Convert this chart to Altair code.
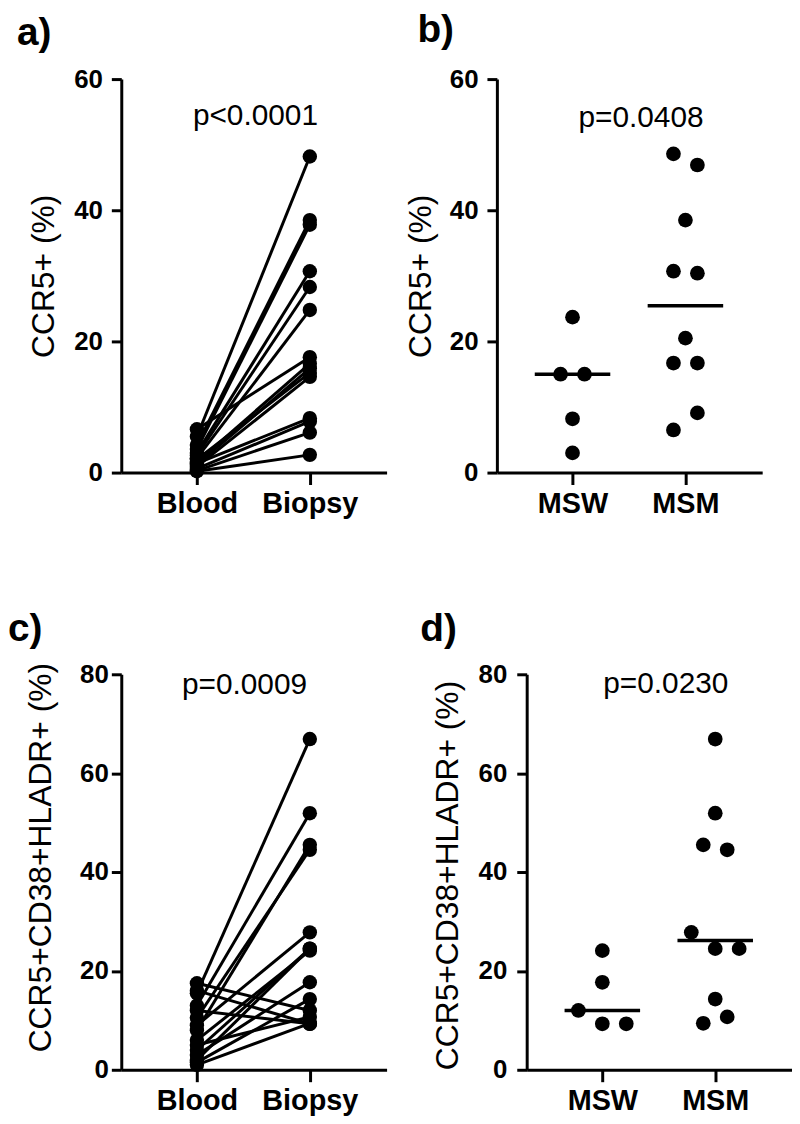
import altair as alt
import pandas as pd

FONT = "Liberation Sans"

# ---------------- data ----------------
# panel a: paired CCR5+ (%) blood vs biopsy
a_blood = [5.5, 4.2, 3.6, 3.0, 2.6, 2.2, 6.6, 1.6, 1.2, 2.0, 0.9, 1.4, 0.6, 0.3, 0.2]
a_biopsy = [48.2, 38.5, 37.8, 30.7, 28.3, 24.8, 17.6, 16.6, 15.9, 15.2, 14.6, 8.3, 7.8, 6.1, 2.7]

# panel b: CCR5+ (%) MSW vs MSM
b_msw = [23.7, 15.0, 15.0, 8.2, 3.0]
b_msw_slot = [0, -1, 1, 0, 0]
b_msm = [48.6, 46.9, 38.5, 30.7, 30.4, 20.5, 16.7, 16.7, 9.1, 6.5]
b_msm_slot = [-1, 1, 0, -1, 1, 0, -1, 1, 1, -1]

# panel c: paired CCR5+CD38+HLADR+ (%) blood vs biopsy
c_blood = [15.5, 13.0, 8.0, 10.5, 9.0, 4.0, 2.0, 6.0, 3.0, 1.5, 17.5, 5.0, 1.0, 16.0, 12.0]
c_biopsy = [66.9, 51.9, 45.5, 44.5, 27.8, 24.5, 24.5, 24.1, 17.7, 14.3, 12.0, 10.7, 9.4, 9.3, 9.3]

# panel d: CCR5+CD38+HLADR+ (%) MSW vs MSM
d_msw = [24.1, 17.7, 12.0, 9.3, 9.3]
d_msw_slot = [0, 0, -2, 0, 2]
d_msm = [66.9, 51.9, 45.5, 44.5, 27.8, 24.5, 24.5, 14.3, 10.7, 9.4]
d_msm_slot = [0, 0, -1, 1, -2, 0, 2, 0, 1, -1]

paired_labels = ["Blood", "Biopsy"]
group_labels = ["MSW", "MSM"]
panel_labels = ["a)", "b)", "c)", "d)"]
pvals = ["p<0.0001", "p=0.0408", "p=0.0009", "p=0.0230"]
title_ccr5 = "CCR5+ (%)"
title_triple = "CCR5+CD38+HLADR+ (%)"
ticks_60 = [0, 20, 40, 60]
ticks_80 = [0, 20, 40, 60, 80]

# ---------------- helpers ----------------
W = 267
XDOM = [-0.67, 1.68]
SLOT = 0.106


def paired_df(blood, biopsy):
    rows = []
    for i, (b, s) in enumerate(zip(blood, biopsy)):
        rows.append({"subject": i, "pos": 0, "value": b})
        rows.append({"subject": i, "pos": 1, "value": s})
    return pd.DataFrame(rows)


def group_df(msw, msw_slot, msm, msm_slot):
    rows = []
    for v, s in zip(msw, msw_slot):
        rows.append({"grp": 0, "slot": s, "value": v})
    for v, s in zip(msm, msm_slot):
        rows.append({"grp": 1, "slot": s, "value": v})
    return pd.DataFrame(rows)


def x_axis(labels):
    expr = "datum.value == 0 ? '%s' : '%s'" % (labels[0], labels[1])
    return alt.Axis(values=[0, 1], labelExpr=expr, title=None, grid=False,
                    domainWidth=3, tickWidth=3, tickSize=12, labelPadding=5,
                    labelFontSize=29, labelFontWeight="bold", labelFont=FONT,
                    labelColor="black", domainColor="black", tickColor="black")


def y_axis(vals, title, tx, ty, lpad):
    return alt.Axis(values=vals, title=title, grid=False, domainWidth=3,
                    tickWidth=3, tickSize=10, labelPadding=lpad,
                    labelFontSize=26, labelFontWeight="bold", labelFont=FONT,
                    titleFont=FONT, titleFontSize=32, titleFontWeight="normal",
                    titleX=tx, titleY=ty, titleColor="black",
                    labelColor="black", domainColor="black", tickColor="black")


def overlay(label, lx, ly, ptext, px, py):
    lab = alt.Chart(pd.DataFrame({"t": [label]})).mark_text(
        font=FONT, fontSize=39, fontWeight="bold", align="left",
        baseline="alphabetic", color="black"
    ).encode(text="t:N", x=alt.value(lx), y=alt.value(ly))
    pv = alt.Chart(pd.DataFrame({"t": [ptext]})).mark_text(
        font=FONT, fontSize=30, fontWeight="normal", align="center",
        baseline="alphabetic", color="black"
    ).encode(text="t:N", x=alt.value(px), y=alt.value(py))
    return [lab, pv]


def paired_panel(blood, biopsy, ymax, yticks, ytitle, h, tx, ty, lpad,
                 label, lx, ly, ptext, px, py):
    df = paired_df(blood, biopsy)
    xs = alt.X("pos:Q", scale=alt.Scale(domain=XDOM, nice=False, zero=False),
               axis=x_axis(paired_labels))
    ys = alt.Y("value:Q", scale=alt.Scale(domain=[0, ymax], nice=False),
               axis=y_axis(yticks, ytitle, tx, ty, lpad))
    base = alt.Chart(df)
    lines = base.mark_line(color="black", strokeWidth=3).encode(
        x=xs, y=ys, detail="subject:N")
    pts = base.mark_circle(size=210, color="black", opacity=1).encode(x=xs, y=ys)
    return alt.layer(lines, pts, *overlay(label, lx, ly, ptext, px, py)).properties(
        width=W, height=h)


def group_panel(msw, msw_slot, msm, msm_slot, ymax, yticks, ytitle, h, tx, ty,
                lpad, label, lx, ly, ptext, px, py):
    df = group_df(msw, msw_slot, msm, msm_slot)
    xs = alt.X("xj:Q", scale=alt.Scale(domain=XDOM, nice=False, zero=False),
               axis=x_axis(group_labels))
    xg = alt.X("grp:Q", scale=alt.Scale(domain=XDOM, nice=False, zero=False),
               axis=x_axis(group_labels))
    ys = alt.Y("value:Q", scale=alt.Scale(domain=[0, ymax], nice=False),
               axis=y_axis(yticks, ytitle, tx, ty, lpad))
    ym = alt.Y("med:Q", scale=alt.Scale(domain=[0, ymax], nice=False),
               axis=y_axis(yticks, ytitle, tx, ty, lpad))
    base = alt.Chart(df)
    pts = base.transform_calculate(xj="datum.grp + datum.slot * %f" % SLOT).mark_circle(
        size=220, color="black", opacity=1).encode(x=xs, y=ys)
    med = base.transform_aggregate(med="median(value)", groupby=["grp"]).mark_tick(
        orient="horizontal", size=76, thickness=3.5, color="black", opacity=1
    ).encode(x=xg, y=ym)
    return alt.layer(pts, med, *overlay(label, lx, ly, ptext, px, py)).properties(
        width=W, height=h)


pa = paired_panel(a_blood, a_biopsy, 60, ticks_60, title_ccr5, 396, -61, 198, 9,
                  panel_labels[0], -105, -34, pvals[0], 135, 46)
pb = group_panel(b_msw, b_msw_slot, b_msm, b_msm_slot, 60, ticks_60, title_ccr5,
                 396, -60, 198, 9, panel_labels[1], -80, -37, pvals[1], 145, 48)
pc = paired_panel(c_blood, c_biopsy, 80, ticks_80, title_triple, 398, -64, 184, 3,
                  panel_labels[2], -114, -34, pvals[2], 124, 20)
pd_ = group_panel(d_msw, d_msw_slot, d_msm, d_msm_slot, 80, ticks_80, title_triple,
                  398, -63, 202, 10, panel_labels[3], -107, -34, pvals[3], 140, 19)

row1 = alt.hconcat(pa, pb, spacing=111, bounds="flush")
row2 = alt.hconcat(pc, pd_, spacing=141, bounds="flush")

chart = alt.vconcat(row1, row2, spacing=92).properties(
    padding={"left": 0, "top": 0, "right": 0, "bottom": 0},
    background="white",
).configure_view(stroke=None).configure_text(font=FONT)

chart.save("out.html", embed_options={"renderer": "svg", "actions": False})
